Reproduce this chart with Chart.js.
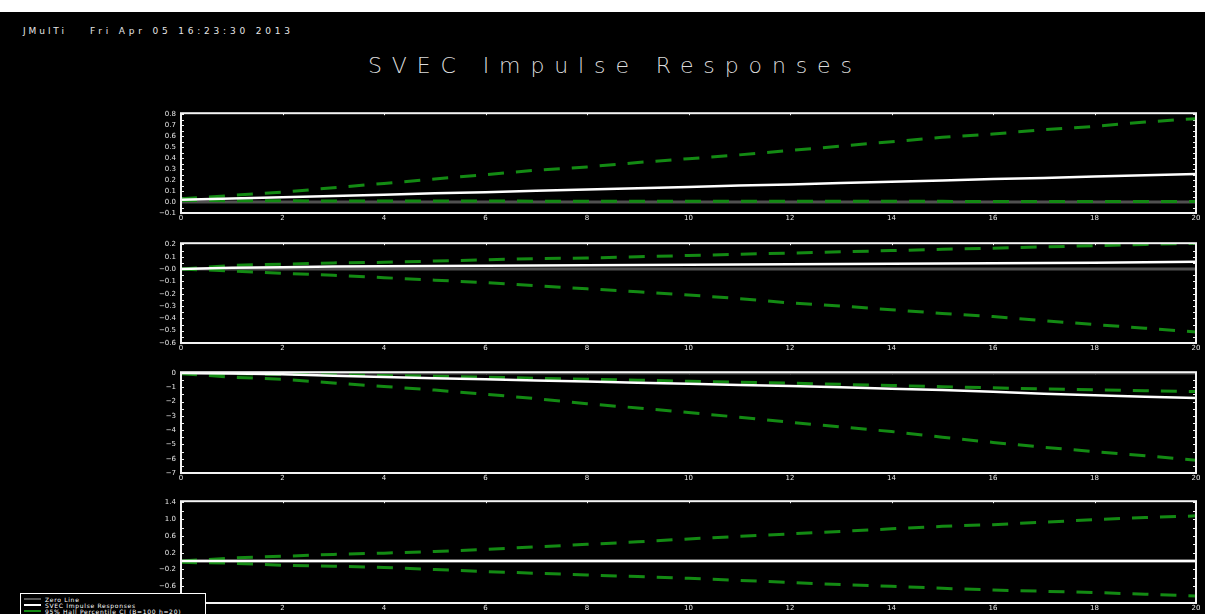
<!DOCTYPE html>
<html>
<head>
<meta charset="utf-8">
<script src="https://cdn.jsdelivr.net/npm/chart.js@4.4.0/dist/chart.umd.min.js"></script>
<style>
html,body{margin:0;padding:0;background:#fff;width:1208px;height:614px;overflow:hidden;position:relative;}
#bg{position:absolute;left:0;top:12px;width:1205px;height:602px;background:#000;}
.txt{position:absolute;color:#e6e6e6;font-family:"DejaVu Sans";white-space:pre;line-height:1;}
#hdr1{left:23px;top:27px;font-size:9px;}
#hdr2{left:90px;top:27px;font-size:9px;}
#title{left:368px;top:55px;font-size:22px;font-weight:200;color:#dcdcdc;}
canvas{position:absolute;left:0;}
#legend{position:absolute;left:20px;top:593px;width:186px;height:26px;background:#000;border:1px solid #fff;box-sizing:border-box;padding:2px 0 0 3px;}
#legend .row{height:6px;line-height:6px;font:6px "DejaVu Sans";color:#fff;letter-spacing:0.7px;white-space:pre;display:flex;align-items:center;}
#legend .sw{display:inline-block;width:17px;height:2px;margin-right:4px;}
</style>
</head>
<body>
<div id="bg"></div>
<div class="txt" id="hdr1">JMulTi</div>
<div class="txt" id="hdr2">Fri Apr 05 16:23:30 2013</div>
<div class="txt" id="title">SVEC Impulse Responses</div>
<canvas id="c1" width="1208" height="121"></canvas>
<canvas id="c2" width="1208" height="121"></canvas>
<canvas id="c3" width="1208" height="122"></canvas>
<canvas id="c4" width="1208" height="123"></canvas>
<div id="legend">
  <div class="row"><span class="sw" style="background:#555"></span>Zero Line</div>
  <div class="row"><span class="sw" style="background:#fff"></span>SVEC Impulse Responses</div>
  <div class="row"><span class="sw" style="background:#138a13"></span>95% Hall Percentile CI (B=100 h=20)</div>
</div>
<script>
// ---- data ----
const horizons = [0,1,2,3,4,5,6,7,8,9,10,11,12,13,14,15,16,17,18,19,20];
const zeroLine = [0,0,0,0,0,0,0,0,0,0,0,0,0,0,0,0,0,0,0,0,0];

const resp1  = [0.02,0.032,0.044,0.055,0.067,0.079,0.09,0.102,0.114,0.126,0.138,0.15,0.161,0.173,0.185,0.197,0.209,0.22,0.232,0.244,0.256];
const upper1 = [0.03,0.06,0.09,0.13,0.17,0.21,0.25,0.29,0.32,0.36,0.395,0.43,0.47,0.51,0.55,0.59,0.62,0.66,0.69,0.73,0.76];
const lower1 = [0.015,0.012,0.011,0.01,0.01,0.009,0.009,0.008,0.008,0.008,0.007,0.007,0.007,0.006,0.006,0.006,0.005,0.005,0.005,0.005,0.005];

const resp2  = [0.0,0.01,0.015,0.02,0.022,0.025,0.027,0.03,0.032,0.034,0.036,0.038,0.04,0.042,0.044,0.046,0.048,0.05,0.052,0.055,0.06];
const upper2 = [0.0,0.03,0.04,0.05,0.055,0.065,0.075,0.085,0.09,0.1,0.11,0.12,0.13,0.14,0.15,0.16,0.17,0.18,0.19,0.2,0.21];
const lower2 = [0.0,-0.015,-0.035,-0.05,-0.07,-0.09,-0.11,-0.135,-0.16,-0.185,-0.21,-0.24,-0.275,-0.3,-0.33,-0.36,-0.385,-0.42,-0.45,-0.48,-0.51];

const resp3  = [0,-0.04,-0.1,-0.2,-0.28,-0.37,-0.45,-0.53,-0.6,-0.68,-0.76,-0.84,-0.92,-1.0,-1.1,-1.2,-1.32,-1.45,-1.57,-1.67,-1.76];
const upper3 = [-0.03,-0.06,-0.1,-0.13,-0.18,-0.24,-0.3,-0.37,-0.44,-0.51,-0.58,-0.65,-0.72,-0.8,-0.88,-0.96,-1.04,-1.12,-1.18,-1.24,-1.3];
const lower3 = [-0.05,-0.3,-0.45,-0.7,-0.95,-1.2,-1.49,-1.8,-2.16,-2.45,-2.77,-3.1,-3.45,-3.78,-4.1,-4.5,-4.86,-5.2,-5.5,-5.8,-6.1];

const resp4  = [0,0,0,0,0,0,0,0,0,0,0,0,0,0,0,0,0,0,0,0,0];
const upper4 = [0.0,0.075,0.115,0.16,0.19,0.23,0.28,0.34,0.4,0.46,0.53,0.59,0.65,0.71,0.77,0.83,0.87,0.93,0.99,1.04,1.08];
const lower4 = [-0.03,-0.05,-0.1,-0.12,-0.15,-0.2,-0.25,-0.29,-0.33,-0.37,-0.41,-0.46,-0.51,-0.56,-0.6,-0.65,-0.69,-0.72,-0.75,-0.79,-0.83];

const yTicks1 = [-0.1,0,0.1,0.2,0.3,0.4,0.5,0.6,0.7,0.8];
const yTickLabels1 = ['\u22120.1','0.0','0.1','0.2','0.3','0.4','0.5','0.6','0.7','0.8'];
const yTicks2 = [-0.6,-0.5,-0.4,-0.3,-0.2,-0.1,0,0.1,0.2];
const yTickLabels2 = ['\u22120.6','\u22120.5','\u22120.4','\u22120.3','\u22120.2','\u22120.1','\u22120.0','0.1','0.2'];
const yTicks3 = [-7,-6,-5,-4,-3,-2,-1,0];
const yTickLabels3 = ['\u22127','\u22126','\u22125','\u22124','\u22123','\u22122','\u22121','0'];
const yTicks4 = [-1.0,-0.6,-0.2,0.2,0.6,1.0,1.4];
const yTickLabels4 = ['\u22121.0','\u22120.6','\u22120.2','0.2','0.6','1.0','1.4'];

const yMin = [-0.1,-0.6,-7,-1.0];
const yMax = [0.81,0.21,0.05,1.43];

// ---- fit header/title letter spacing ----
function fitText(id, target){
  const el = document.getElementById(id);
  const n = el.textContent.length;
  el.style.letterSpacing = '0px';
  const w = el.getBoundingClientRect().width;
  el.style.letterSpacing = ((target - w)/(n-1)) + 'px';
}
fitText('hdr1', 41);
fitText('hdr2', 200);
fitText('title', 484);

// ---- layout ----
const plotTop = [110,240,369,498];
const plotBottom = [213,343,473,603];
const PADT = 6, XH = 12;

const GREEN = '#138a13', GRAY = '#505050';

const frame = {
  id:'frame',
  beforeDatasetsDraw(chart){
    const {ctx, chartArea:a} = chart;
    const ys = chart.scales.y, xs = chart.scales.x;
    ctx.save();
    ctx.strokeStyle = '#f0f0f0';
    ctx.lineWidth = 1;
    const step = (ys.ticks.length>1) ? (ys.ticks[1].value - ys.ticks[0].value)/2 : 1;
    for (let v = ys.ticks[0].value; v <= ys.max + 1e-9; v += step){
      const p = Math.round(ys.getPixelForValue(v)) + 0.5;
      if (p < a.top || p > a.bottom) continue;
      ctx.beginPath();
      ctx.moveTo(a.left, p); ctx.lineTo(a.left+3, p);
      ctx.moveTo(a.right, p); ctx.lineTo(a.right-3, p);
      ctx.stroke();
    }
    xs.ticks.forEach(t=>{
      const p = Math.round(xs.getPixelForValue(t.value)) + 0.5;
      ctx.beginPath();
      ctx.moveTo(p, a.top); ctx.lineTo(p, a.top+2);
      ctx.stroke();
    });
    ctx.restore();
  },
  afterDraw(chart){
    const {ctx, chartArea:a} = chart;
    ctx.save();
    ctx.strokeStyle = '#f4f4f4';
    ctx.lineWidth = 2;
    ctx.strokeRect(a.left, a.top, a.right-a.left, a.bottom-a.top);
    ctx.restore();
  }
};

function makePanel(idx, resp, upper, lower, ticks, labels){
  const cv = document.getElementById('c'+(idx+1));
  const h = plotBottom[idx] - plotTop[idx] + PADT + XH;
  cv.height = h;
  cv.style.top = (plotTop[idx] - PADT) + 'px';
  new Chart(cv, {
    type:'line',
    data:{
      labels: horizons,
      datasets:[
        {label:'SVEC Impulse Responses', data:resp, borderColor:'#ffffff', borderWidth:2.5},
        {label:'95% Hall Percentile CI (B=100 h=20)', data:upper, borderColor:GREEN, borderWidth:3, borderDash:[16,12]},
        {label:'95% Hall Percentile CI lower', data:lower, borderColor:GREEN, borderWidth:3, borderDash:[16,12]},
        {label:'Zero Line', data:zeroLine, borderColor:GRAY, borderWidth:3}
      ]
    },
    options:{
      responsive:false, animation:false, devicePixelRatio:1,
      layout:{padding:{top:PADT, right:12, left:0, bottom:0}},
      elements:{point:{radius:0}, line:{tension:0, borderCapStyle:'butt', fill:false}},
      plugins:{legend:{display:false}, tooltip:{enabled:false}},
      scales:{
        x:{
          type:'linear', min:0, max:20,
          ticks:{stepSize:2, color:'#e6e6e6', font:{family:'DejaVu Sans', size:7}, padding:1, maxRotation:0, autoSkip:false},
          grid:{display:false, drawTicks:false},
          border:{display:false},
          afterFit(s){ s.height = XH; }
        },
        y:{
          type:'linear', min:yMin[idx], max:yMax[idx],
          afterBuildTicks(s){ s.ticks = ticks.map(v=>({value:v})); },
          ticks:{
            autoSkip:false,
            color:'#e6e6e6', font:{family:'DejaVu Sans', size:7}, padding:5,
            callback:(v)=>{ const i = ticks.findIndex(t=>Math.abs(t-v)<1e-9); return i>=0 ? labels[i] : ''; }
          },
          grid:{display:false, drawTicks:false},
          border:{display:false},
          afterFit(s){ s.width = 181; }
        }
      }
    },
    plugins:[frame]
  });
}

makePanel(0, resp1, upper1, lower1, yTicks1, yTickLabels1);
makePanel(1, resp2, upper2, lower2, yTicks2, yTickLabels2);
makePanel(2, resp3, upper3, lower3, yTicks3, yTickLabels3);
makePanel(3, resp4, upper4, lower4, yTicks4, yTickLabels4);
</script>
</body>
</html>
